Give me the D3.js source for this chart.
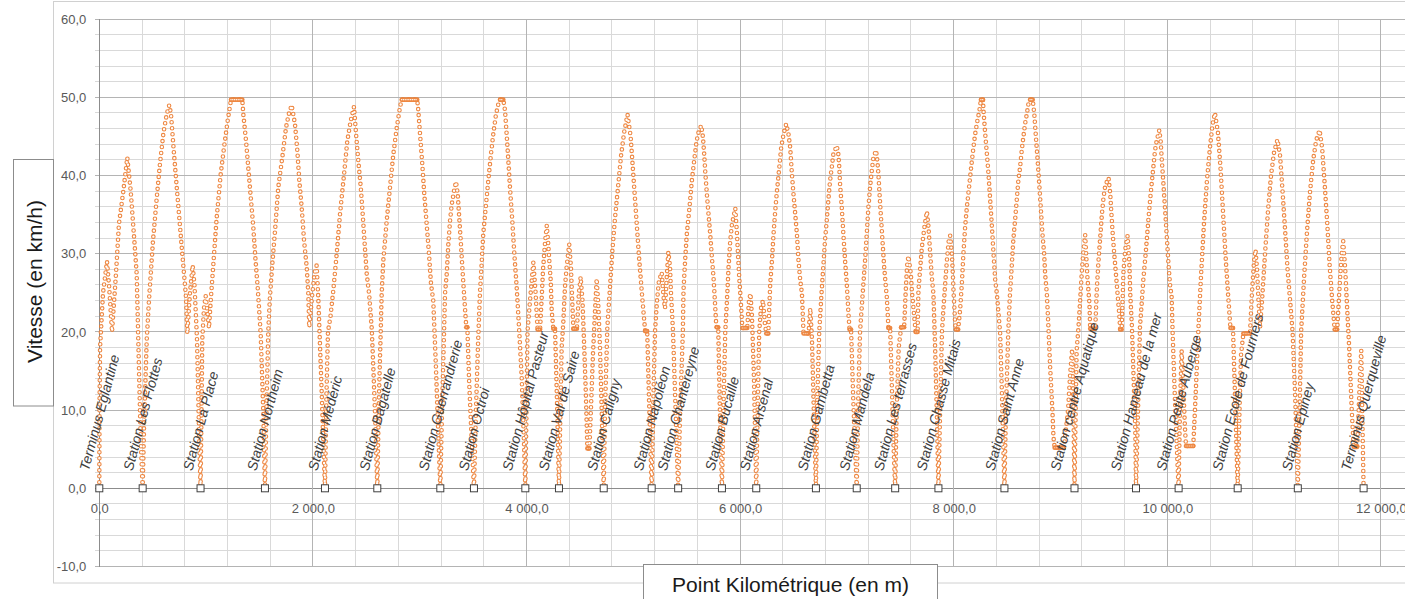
<!DOCTYPE html>
<html>
<head>
<meta charset="utf-8">
<script src="https://cdn.jsdelivr.net/npm/d3@7"></script>
<style>
  body { margin: 0; background: #fff; }
  svg { display: block; }
</style>
</head>
<body>
<svg id="chart" width="1405" height="599"></svg>
<script>
// ---- Stations along the line (PK in metres) ----
const stationNames = [
  "Terminus Eglantine", "Station Les Flottes", "Station La Place", "Station Northeim",
  "Station Médéric", "Station Bagatelle", "Station Guerrandrerie", "Station Octroi",
  "Station Hôpital Pasteur", "Station Val de Saire", "Station Caligny", "Station Napoléon",
  "Station Chantereyne", "Station Bucaille", "Station Arsenal", "Station Gambetta",
  "Station Mandela", "Station Les terrasses", "Station Chasse Mitais", "Station Saint Anne",
  "Station centre Aquatique", "Station Hameau de la mer", "Station Petite Auberge",
  "Station Ecole de Fourriers", "Station Epiney", "Terminus Querqueville"
];
const stationPk = [
  0, 406, 948, 1551, 2113, 2603, 3193, 3508, 3989, 4304, 4723, 5172, 5420,
  5830, 6151, 6710, 7092, 7452, 7857, 8475, 9131, 9707, 10106, 10659, 11222, 11838
];

// ---- Speed profile: [PK (m), speed (km/h)] ----
const profile = [
  // Eglantine -> Les Flottes
  [0,0],[2,10],[7,18],[35,25],[72,29],[91,26],[119,20],[156,27.4],[184,33.8],[225,38],[262,42.3],
  [294,38],[328,31.7],[350,27.4],[365,19],[388,6],[406,0],
  // Les Flottes -> La Place
  [419,8],[444,19],[465,24],[503,31.7],[537,37],[568,41.5],[601,45.5],[631,47.8],[655,49],
  [671,47.9],[697,43.2],[725,38.5],[749,34.6],[772,30.8],[796,27],[812,24.4],[824,19.8],
  [849,25],[874,28.5],[891,26],[905,22],[915,19],[933,8],[948,0],
  // La Place -> Northeim
  [957,10],[964,19],[980,23],[996,24.6],[1013,22.5],[1027,20.5],[1046,24.5],[1067,28.5],[1099,34.6],
  [1137,40.2],[1168,43.6],[1202,47],[1233,49.7],[1339,49.7],[1348,47.9],[1374,44.4],[1395,41],
  [1418,37.2],[1442,33.4],[1461,29.5],[1483,25.7],[1511,19.8],[1536,9.6],[1551,0],
  // Northeim -> Médéric
  [1565,10],[1582,20],[1598,24.5],[1620,28.7],[1648,33.4],[1676,38.5],[1717,42.7],[1748,46.1],
  [1773,47.8],[1801,49],[1832,46.6],[1854,43.2],[1873,39.3],[1895,35.9],[1917,31.7],[1942,28.3],
  [1957,24.9],[1966,20.6],[1992,24.5],[2015,27.5],[2035,28.5],[2050,24.5],[2062,20],[2083,12],
  [2100,5],[2113,0],
  // Médéric -> Bagatelle
  [2127,12],[2141,20],[2165,22],[2191,25.3],[2223,30],[2254,35.1],[2292,40.2],[2322,44.4],
  [2354,47],[2385,48.8],[2404,45.3],[2425,41.9],[2448,38.5],[2466,35.1],[2485,31.2],[2504,27.4],
  [2526,24.9],[2551,20.4],[2567,15],[2586,8],[2603,0],
  // Bagatelle -> Guerrandrerie
  [2619,12],[2635,20],[2644,24.9],[2659,29.1],[2691,34.2],[2722,38.5],[2753,42.7],[2785,46.1],
  [2815,48.7],[2831,49.7],[2977,49.7],[2987,48.3],[3003,45.3],[3024,41.5],[3043,37.6],[3065,33.8],
  [3087,30],[3106,26.1],[3127,24],[3152,15.5],[3174,7],[3193,0],
  // Guerrandrerie -> Octroi
  [3209,10],[3228,20],[3237,24.9],[3253,27.4],[3268,31.2],[3284,34.2],[3300,36.3],[3321,38],
  [3340,39.2],[3356,37.6],[3368,35.1],[3384,31.7],[3399,28.3],[3415,24.9],[3436,20.6],[3446,20.6],
  [3462,14],[3487,6],[3508,0],
  // Octroi -> Hôpital Pasteur
  [3527,10],[3545,18],[3564,24.9],[3580,28.7],[3595,32.5],[3618,35.9],[3642,39.3],[3667,42.7],
  [3689,45.3],[3714,47.8],[3736,49.1],[3752,49.7],[3783,49.7],[3799,48.3],[3814,45.3],[3830,41.9],
  [3845,38.5],[3867,34.2],[3886,30],[3908,25.7],[3930,20.6],[3955,14.2],[3977,5.7],[3989,0],
  // Hôpital Pasteur -> Val de Saire
  [4000,10],[4009,20],[4033,24],[4064,28.9],[4085,25],[4104,20.3],[4127,20.3],[4141,24],[4155,28],
  [4174,31.5],[4190,33.6],[4205,31],[4214,29],[4227,26.5],[4236,22.7],[4251,20.4],[4267,20.4],
  [4284,12],[4296,5],[4304,0],
  // Val de Saire -> Caligny
  [4318,10],[4329,18],[4344,21],[4360,25.7],[4376,28.3],[4400,31.2],[4416,28.3],[4428,24],
  [4439,20.4],[4472,20.4],[4491,25],[4507,27],[4524,24],[4538,19],[4556,12],[4570,5.1],[4589,5.1],
  [4603,10],[4622,17],[4641,22.5],[4657,26.8],[4674,23],[4688,18],[4706,9],[4723,0],
  // Caligny -> Napoléon
  [4735,10],[4757,20.6],[4782,25.7],[4804,30.4],[4829,34.6],[4857,38.5],[4885,42.5],[4914,45.5],
  [4946,47.8],[4975,45],[4998,40.5],[5026,35],[5054,29.5],[5083,24.5],[5111,20.1],[5130,20.1],
  [5148,11],[5172,0],
  // Napoléon -> Chantereyne
  [5189,12],[5203,20],[5222,24],[5240,26.5],[5266,27.6],[5283,24.5],[5297,23],[5313,27],[5328,30.2],
  [5344,28.3],[5353,24.9],[5372,20],[5396,10],[5420,0],
  // Chantereyne -> Bucaille
  [5439,10],[5464,20],[5470,25.3],[5485,29.1],[5501,32.5],[5526,35.9],[5548,39.3],[5570,41.9],
  [5589,44],[5605,45.3],[5636,46.4],[5652,44.9],[5664,42.7],[5673,40.6],[5689,37.6],[5704,35.1],
  [5720,32.5],[5736,29.5],[5751,27],[5760,24.9],[5776,21],[5781,20.6],[5795,20.6],[5809,11],[5830,0],
  // Bucaille -> Arsenal
  [5847,12],[5861,20],[5877,24],[5892,28.3],[5908,31.7],[5924,33.8],[5955,35.8],[5971,32.5],
  [5980,30],[5992,27],[6002,24.9],[6021,20.5],[6067,20.5],[6083,24],[6097,24.9],[6111,22],
  [6130,14],[6151,0],
  // Arsenal -> Gambetta
  [6167,12],[6179,20],[6195,23],[6214,24],[6233,21],[6245,19.8],[6264,19.8],[6282,26.1],[6298,29.1],
  [6313,32.5],[6329,35.5],[6345,38],[6367,41],[6385,43.6],[6407,45.3],[6432,46.6],[6453,45.3],
  [6469,43.6],[6485,40.2],[6500,37.6],[6516,35.1],[6532,32.5],[6547,29.1],[6563,26.6],[6579,24.9],
  [6594,19.8],[6641,19.8],[6657,23],[6673,19],[6690,10],[6710,0],
  // Gambetta -> Mandela
  [6724,12],[6741,20],[6764,25.3],[6779,28.3],[6795,31.7],[6811,34.2],[6826,36.8],[6842,39.3],
  [6858,41],[6873,42.7],[6905,43.8],[6920,42.7],[6929,41],[6936,38.9],[6952,35.9],[6967,32.5],
  [6983,29.1],[6999,26.1],[7016,22],[7025,20.3],[7039,20.3],[7058,12],[7077,5],[7092,0],
  // Mandela -> Les terrasses
  [7107,12],[7123,20],[7154,26.1],[7170,29.1],[7186,32.5],[7201,35.9],[7217,38.5],[7233,40.6],
  [7248,42.3],[7273,43.2],[7285,41.9],[7295,40.2],[7304,38],[7317,35.1],[7333,31.7],[7349,28.3],
  [7365,25.7],[7374,24.4],[7389,20.5],[7405,20.5],[7423,12],[7438,5],[7452,0],
  // Les terrasses -> Chasse Mitais
  [7466,10],[7485,18],[7508,20.6],[7536,20.6],[7550,25],[7564,28.5],[7576,29.7],[7599,27.4],
  [7608,25.3],[7630,22],[7644,20],[7662,20],[7670,25.3],[7702,30.8],[7726,33.4],[7749,35.4],
  [7764,33.4],[7780,30],[7795,27],[7810,24.9],[7826,18],[7843,9],[7857,0],
  // Chasse Mitais -> Saint Anne
  [7873,10],[7890,20],[7904,23],[7920,26.1],[7936,29.1],[7954,31.7],[7967,32.3],[7983,30],
  [7992,27.4],[7998,25.3],[8014,21],[8019,20.3],[8042,20.3],[8061,23],[8076,26.1],[8091,30],
  [8107,33.4],[8123,35.9],[8144,38.5],[8163,41],[8185,43.6],[8201,45.3],[8222,47],[8241,48.3],
  [8255,49.7],[8274,49.7],[8279,48.3],[8295,45.3],[8311,42.7],[8326,40.2],[8342,36.8],[8358,33.4],
  [8373,30],[8389,26.6],[8404,24.9],[8435,19.8],[8454,11],[8475,0],
  // Saint Anne -> centre Aquatique
  [8489,10],[8511,20],[8527,24.9],[8543,28.3],[8558,31.7],[8574,34.2],[8590,36.8],[8605,39.3],
  [8621,41],[8637,43.2],[8652,44.9],[8668,46.6],[8684,47.8],[8699,49.1],[8715,49.7],[8740,49.7],
  [8755,47.8],[8768,45.3],[8784,42.3],[8799,39.3],[8815,35.9],[8831,32.5],[8847,30],[8856,27.4],
  [8872,24.9],[8887,20.6],[8903,15.5],[8924,10],[8934,6.6],[8945,5.2],[9032,5.2],[9071,10],
  [9090,14.5],[9109,17.8],[9119,12],[9131,0],
  // centre Aquatique -> Hameau de la mer
  [9142,10],[9151,17.6],[9168,20.5],[9184,24],[9200,27.8],[9215,30.4],[9231,32.4],[9240,30],
  [9252,27],[9271,23.6],[9278,20.4],[9325,20.4],[9341,25.7],[9356,29.1],[9372,32.1],[9388,35.1],
  [9403,37.2],[9419,38.7],[9450,39.7],[9466,37.6],[9475,35.5],[9487,32.9],[9503,30],[9519,27.4],
  [9534,24.9],[9550,22.3],[9559,20.3],[9573,20.3],[9590,27.8],[9606,30.5],[9628,32.3],[9644,29.1],
  [9653,24.9],[9669,20.6],[9684,14.2],[9700,7.8],[9707,0],
  // Hameau de la mer -> Petite Auberge
  [9726,10],[9744,20.6],[9760,23.6],[9775,26.6],[9800,30.4],[9822,34.2],[9844,37.6],[9863,40.2],
  [9885,43.2],[9900,44.4],[9925,45.8],[9938,44.4],[9947,42.3],[9962,39.3],[9978,35.9],[9994,32.5],
  [10009,29.1],[10025,26.1],[10041,24.4],[10050,19.8],[10072,11.2],[10097,2.7],[10106,0],
  // Petite Auberge -> Ecole de Fourriers
  [10118,10],[10134,17.6],[10149,13.4],[10165,7.8],[10175,5.4],[10243,5.4],[10259,10],[10275,15],
  [10290,20],[10315,27],[10344,34],[10372,39.5],[10399,43.5],[10423,46.5],[10446,48],[10474,45.5],
  [10498,41],[10521,35.5],[10544,30],[10568,25],[10591,20.5],[10615,20.5],[10638,10],[10659,0],
  // Ecole de Fourriers -> Epiney
  [10676,10],[10690,17],[10712,19.8],[10774,19.8],[10793,25],[10812,29],[10826,30.5],[10840,28],
  [10854,24],[10868,20.5],[10887,24],[10915,30],[10943,35.5],[10971,40],[11000,43],[11032,44.6],
  [11056,42.5],[11079,38],[11103,33],[11126,28],[11150,24],[11173,20],[11197,12],[11222,0],
  // Epiney -> Querqueville
  [11239,10],[11253,20],[11281,27],[11309,33],[11337,38],[11366,42],[11394,44.5],[11426,45.8],
  [11450,43.5],[11473,39],[11497,34],[11520,28.5],[11544,24],[11567,20.3],[11591,20.3],[11614,26],
  [11633,30],[11647,31.6],[11666,28],[11684,23],[11703,18],[11727,10],[11745,5.3],[11778,5.3],
  [11792,10],[11806,15],[11816,17.6],[11825,10],[11838,0]
];

// ---- Axis ticks ----
const speedTicks = [-10, 0, 10, 20, 30, 40, 50, 60];
const pkTicks = [0, 2000, 4000, 6000, 8000, 10000, 12000];

// ---- Layout ----
const W = 1405, H = 599;
const svg = d3.select("#chart");
const x = d3.scaleLinear().domain([0, 12000]).range([99.3, 1380.9]);
const y = d3.scaleLinear().domain([-10, 60]).range([566.5, 19.1]);

const fr = d3.formatLocale({ decimal: ",", thousands: "\u00a0", grouping: [3], currency: ["", " €"], minus: "-" });
const fmt = fr.format(",.1f");

const FONT = "'Liberation Sans', Arial, sans-serif";

// chart frame
svg.append("rect").attr("x", 0).attr("y", 0).attr("width", W).attr("height", H).attr("fill", "#fff");
svg.append("rect")
  .attr("x", 53.5).attr("y", 1.5).attr("width", 1400).attr("height", 581.5)
  .attr("fill", "#fff").attr("stroke", "#d0d0d0").attr("stroke-width", 1);

// gridlines
const grid = svg.append("g").attr("shape-rendering", "crispEdges");
const minorY = d3.range(-10, 60.1, 2).filter(v => v % 10 !== 0);
grid.selectAll(".hmin").data(minorY).join("line")
  .attr("x1", 95).attr("x2", W).attr("y1", d => y(d)).attr("y2", d => y(d))
  .attr("stroke", "#d9d9d9");
const maxPk = x.invert(W);
const minorX = d3.range(0, maxPk, 400).filter(v => v % 2000 !== 0);
grid.selectAll(".vmin").data(minorX).join("line")
  .attr("x1", d => x(d)).attr("x2", d => x(d)).attr("y1", y(60)).attr("y2", y(-10))
  .attr("stroke", "#d9d9d9");
grid.selectAll(".hmaj").data(speedTicks).join("line")
  .attr("x1", 95).attr("x2", W).attr("y1", d => y(d)).attr("y2", d => y(d))
  .attr("stroke", d => d === 0 ? "#8c8c8c" : "#b4b4b4");
grid.selectAll(".vmaj").data(pkTicks).join("line")
  .attr("x1", d => x(d)).attr("x2", d => x(d)).attr("y1", y(60)).attr("y2", y(-10))
  .attr("stroke", d => d === 0 ? "#8c8c8c" : "#b4b4b4");

// axes (labels only; lines drawn by the grid)
const yAxis = svg.append("g").attr("transform", `translate(${x(0)},0)`)
  .call(d3.axisLeft(y).tickValues(speedTicks).tickFormat(fmt).tickSize(0).tickPadding(13));
const xAxis = svg.append("g").attr("transform", `translate(0,${y(0)})`)
  .call(d3.axisBottom(x).tickValues(pkTicks).tickFormat(fmt).tickSize(0).tickPadding(15.5));
[yAxis, xAxis].forEach(a => {
  a.select(".domain").remove();
  a.selectAll("text").attr("font-family", FONT).attr("font-size", 13).attr("fill", "#595959");
});

// speed profile drawn as hollow circle markers along the run
const ORANGE = "#ED7D31";
const line = d3.line().x(d => x(d[0])).y(d => y(d[1]));
const prof = svg.append("g").attr("opacity", 0.92);
prof.append("path").attr("d", line(profile))
  .attr("fill", "none").attr("stroke", ORANGE).attr("stroke-width", 4.6)
  .attr("stroke-linecap", "round").attr("stroke-dasharray", "0 6");
prof.append("path").attr("d", line(profile))
  .attr("fill", "none").attr("stroke", "#fff").attr("stroke-width", 2.4)
  .attr("stroke-linecap", "round").attr("stroke-dasharray", "0 6");

// constant-speed holds: markers overlap into a solid run
const holds = d3.pairs(profile).filter(([a, b]) => a[1] === b[1] && a[1] > 0);
prof.selectAll(".hold").data(holds).join("line")
  .attr("x1", d => x(d[0][0])).attr("x2", d => x(d[1][0]))
  .attr("y1", d => y(d[0][1])).attr("y2", d => y(d[1][1]))
  .attr("stroke", ORANGE).attr("stroke-width", 4.6).attr("stroke-linecap", "round");
prof.selectAll(".holdc").data(holds).join("line")
  .attr("x1", d => x(d[0][0])).attr("x2", d => x(d[1][0]))
  .attr("y1", d => y(d[0][1])).attr("y2", d => y(d[1][1]))
  .attr("stroke", "#fff").attr("stroke-width", 1.4).attr("stroke-linecap", "round")
  .attr("stroke-dasharray", "0 1.8").attr("opacity", d => d[0][1] > 40 ? 1 : 0.5);

// station markers
const stations = stationNames.map((n, i) => ({ name: n, pk: stationPk[i] }));
svg.append("g").selectAll("rect").data(stations).join("rect")
  .attr("x", d => x(d.pk) - 3.5).attr("y", y(0) - 3.5).attr("width", 7).attr("height", 7)
  .attr("fill", "#fff").attr("stroke", "#404040").attr("stroke-width", 1);

// station labels, rotated, centred horizontally on the marker
const ANG = 75, rad = ANG * Math.PI / 180, INK = 10, LABEL_BOTTOM = 471.5;
const labels = svg.append("g");
stations.forEach(d => {
  const t = labels.append("text")
    .attr("font-family", FONT).attr("font-style", "italic").attr("font-size", 14)
    .attr("fill", "#404040").text(d.name);
  const L = t.node().getComputedTextLength();
  const ox = x(d.pk) - (L * Math.cos(rad) - INK * Math.sin(rad)) / 2;
  t.attr("transform", `translate(${ox},${LABEL_BOTTOM}) rotate(${-ANG})`);
});

// axis titles in boxes
svg.append("rect").attr("x", 13.5).attr("y", 159.5).attr("width", 40).attr("height", 246.5)
  .attr("fill", "#fff").attr("stroke", "#8c8c8c").attr("stroke-width", 1);
svg.append("text").attr("transform", "translate(41.5,281.5) rotate(-90)")
  .attr("text-anchor", "middle").attr("font-family", FONT).attr("font-size", 21)
  .attr("fill", "#1a1a1a").text("Vitesse (en km/h)");
svg.append("rect").attr("x", 643.5).attr("y", 564.5).attr("width", 294).attr("height", 50)
  .attr("fill", "#fff").attr("stroke", "#8c8c8c").attr("stroke-width", 1);
svg.append("text").attr("x", 790.5).attr("y", 591.5)
  .attr("text-anchor", "middle").attr("font-family", FONT).attr("font-size", 21)
  .attr("fill", "#1a1a1a").text("Point Kilométrique (en m)");
</script>
</body>
</html>
